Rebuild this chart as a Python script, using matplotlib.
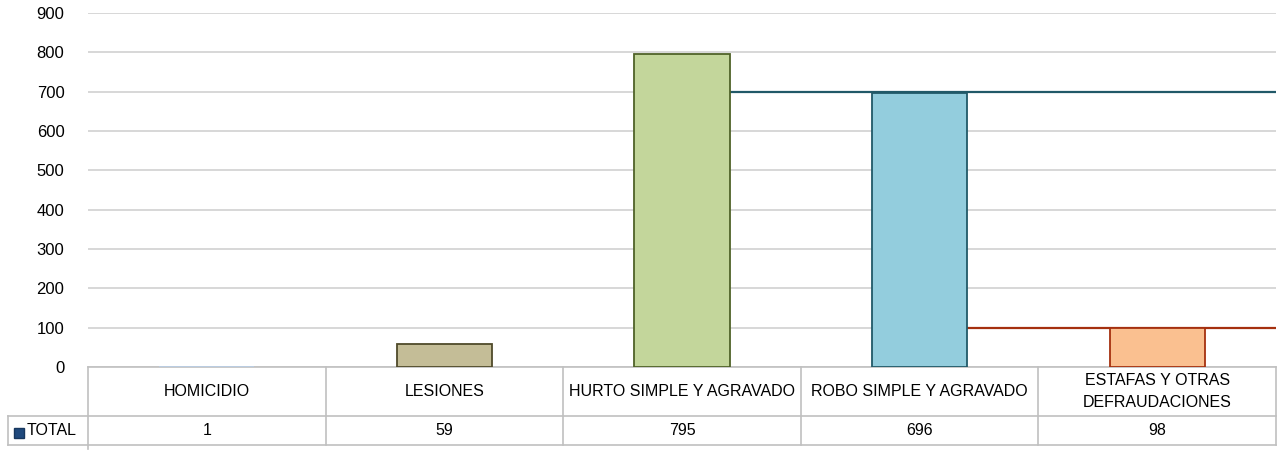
import matplotlib

matplotlib.use("Agg")

import matplotlib.pyplot as plt
import matplotlib.transforms as mtransforms
from matplotlib import font_manager

# ---------------------------------------------------------------------------
# Data
# ---------------------------------------------------------------------------
categories = ["HOMICIDIO", "LESIONES", "HURTO SIMPLE Y AGRAVADO",
              "ROBO SIMPLE Y AGRAVADO", "ESTAFAS Y OTRAS\nDEFRAUDACIONES"]
totals = [1, 59, 795, 696, 98]
series_name = "TOTAL"
y_ticks = list(range(0, 901, 100))

fills = ["#b9cde5", "#c4bd97", "#c3d69b", "#93cddd", "#fac090"]
edges = ["#b9cde5", "#4f4a2a", "#4f6228", "#215968", "#a5300f"]

# ---------------------------------------------------------------------------
# Font: Arial look (no narrow face installed, so a slightly smaller size)
# ---------------------------------------------------------------------------
names = {f.name for f in font_manager.fontManager.ttflist}
FONT = "Liberation Sans Narrow" if "Liberation Sans Narrow" in names else "Liberation Sans"
plt.rcParams["font.family"] = [FONT, "DejaVu Sans"]
FS = 13 if FONT.endswith("Narrow") else 11.5
FS_TICK = 12

W, H = 1286, 459
fig = plt.figure(figsize=(W / 100, H / 100), dpi=100)
L, R, T, B = 88, 1276, 13, 367
ax = fig.add_axes([L / W, 1 - B / H, (R - L) / W, (B - T) / H])

x = list(range(len(categories)))
bw = 0.4
ax.bar(x, totals, width=bw, color=fills, edgecolor=edges, linewidth=1.3, zorder=3)

# odd step lines Excel left behind: each bar's level carried to the right edge
for i in (3, 4):
    ax.hlines(round(totals[i], -2), i - 1 + bw / 2, len(categories) - 0.5,
              color=edges[i], lw=1.6, zorder=2)

ax.set_xlim(-0.5, len(categories) - 0.5)
ax.set_ylim(0, 900)
ax.set_yticks(y_ticks)
ax.set_xticks([])
ax.tick_params(axis="y", length=0, pad=17, labelsize=FS_TICK)
ax.grid(axis="y", color="#d4d4d4", lw=1.3, zorder=0)
for s in ax.spines.values():
    s.set_visible(False)

# ---------------------------------------------------------------------------
# Data table below the plot
# ---------------------------------------------------------------------------
trans = mtransforms.blended_transform_factory(ax.transData, ax.transAxes)
span = B - T
y_head_top = 0.0
y_head_bot = -(416 - B) / span
y_row_bot = -(445 - B) / span
x_left_total = -0.5 + (8 - L) / ((R - L) / len(categories))
line_kw = dict(color="#c0c0c0", lw=1.2, transform=trans, clip_on=False)

ax.plot([-0.5, len(categories) - 0.5], [y_head_top] * 2, **line_kw)
ax.plot([x_left_total, len(categories) - 0.5], [y_head_bot] * 2, **line_kw)
ax.plot([x_left_total, len(categories) - 0.5], [y_row_bot] * 2, **line_kw)
ax.plot([x_left_total] * 2, [y_head_bot, y_row_bot], **line_kw)
ax.plot([-0.5] * 2, [y_head_top, y_row_bot - 0.01], **line_kw)
for i in range(1, len(categories) + 1):
    ax.plot([i - 0.5] * 2, [y_head_top, y_row_bot], **line_kw)

for i, (cat, val) in enumerate(zip(categories, totals)):
    ax.text(i, (y_head_top + y_head_bot) / 2, cat, transform=trans,
            ha="center", va="center", fontsize=FS, linespacing=1.55)
    ax.text(i, (y_head_bot + y_row_bot) / 2, str(val), transform=trans,
            ha="center", va="center", fontsize=FS)

# legend key + series name
y_mid = (y_head_bot + y_row_bot) / 2
ax.plot([x_left_total + 0.045], [y_mid - 0.006], marker="s", ms=6.5,
        color="#1f497d", mec="#17375e", transform=trans, clip_on=False)
ax.text(x_left_total + 0.08, y_mid, series_name, transform=trans,
        ha="left", va="center", fontsize=FS)

fig.savefig("out.png", dpi=100)
